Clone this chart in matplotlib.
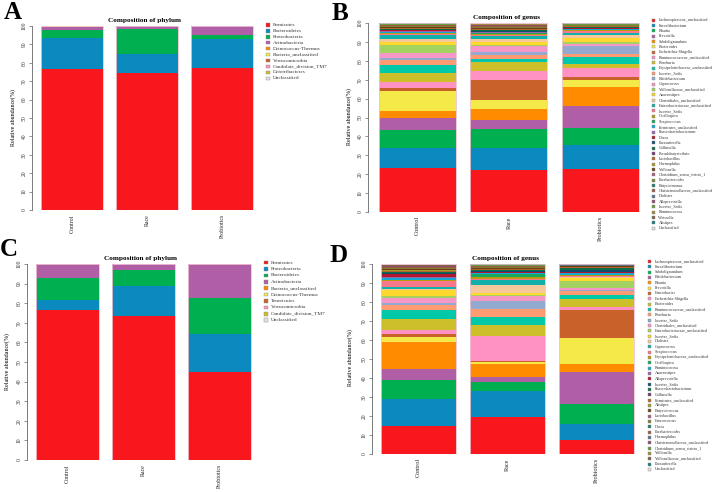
import matplotlib
matplotlib.use("Agg")
import matplotlib.pyplot as plt
from matplotlib.patches import Rectangle
import numpy as np

plt.rcParams['font.family'] = ['Liberation Serif', 'DejaVu Serif']

W, H = 719, 492
samples = ["Control", "Race", "Probiotics"]

# ---------------- Panel A: phylum ----------------
phylum_a = ["Firmicutes", "Bacteroidetes", "Proteobacteria", "Actinobacteria",
            "Deinococcus-Thermus", "Bacteria_unclassified", "Verrucomicrobia",
            "Candidate_division_TM7", "Deferribacteres", "Unclassified"]
a_control    = [76.5, 17.2, 3.9, 2.0, 0.1, 0.1, 0.05, 0.05, 0.05, 0.05]
a_race       = [74.5, 10.5, 13.2, 1.6, 0.05, 0.05, 0.03, 0.03, 0.02, 0.02]
a_probiotics = [77.4, 15.4, 2.5, 4.5, 0.05, 0.05, 0.03, 0.03, 0.02, 0.02]

# ---------------- Panel C: phylum ----------------
phylum_c = ["Firmicutes", "Proteobacteria", "Bacteroidetes", "Actinobacteria",
            "Bacteria_unclassified", "Deinococcus-Thermus", "Tenericutes",
            "Verrucomicrobia", "Candidate_division_TM7", "Unclassified"]
c_control    = [76.7, 4.9, 11.1, 7.2, 0.02, 0.02, 0.02, 0.02, 0.01, 0.01]
c_race       = [73.6, 15.2, 8.1, 3.0, 0.02, 0.02, 0.02, 0.02, 0.01, 0.01]
c_probiotics = [44.9, 19.2, 18.6, 17.2, 0.02, 0.02, 0.02, 0.02, 0.01, 0.01]

# ---------------- Panel B: genus ----------------
genus_b = ["Lachnospiraceae_unclassified", "Faecalibacterium", "Blautia", "Prevotella",
           "Subdoligranulum", "Bacteroides", "Escherichia-Shigella",
           "Ruminococcaceae_unclassified", "Roseburia", "Erysipelotrichaceae_unclassified",
           "Incertae_Sedis", "Bifidobacterium", "Coprococcus", "Veillonellaceae_unclassified",
           "Anaerostipes", "Clostridiales_unclassified", "Enterobacteriaceae_unclassified",
           "Incertae_Sedis", "Oscillospira", "Streptococcus", "Firmicutes_unclassified",
           "Phascolarctobacterium", "Dorea", "Parasutterella", "Collinsella",
           "Pseudobutyrivibrio", "Lactobacillus", "Haemophilus", "Veillonella",
           "Clostridium_sensu_stricto_1", "Parabacteroides", "Butyricimonas",
           "Christensenellaceae_unclassified", "Dialister", "Alloprevotella",
           "Incertae_Sedis", "Ruminococcus", "Weissella", "Alistipes", "Unclassified"]
b_control = [23.5, 10.2, 9.7, 6.2, 3.8, 10.4, 1.8, 3.2, 4.7, 4.1, 3.0, 1.1, 2.3, 4.2,
             1.9, 1.6, 2.0, 0.5, 0.3, 0.4, 0.6, 0.3, 0.3, 0.4, 0.3, 0.2, 0.3, 0.2,
             0.2, 0.3, 0.2, 0.2, 0.3, 0.2, 0.2, 0.2, 0.2, 0.2, 0.1, 0.2]
b_race = [22.2, 11.8, 9.7, 5.0, 5.8, 4.8, 10.5, 4.8, 4.6, 1.8, 2.1, 1.6, 3.0, 0.8,
          1.6, 1.3, 1.5, 0.6, 0.5, 0.5, 0.4, 0.3, 0.3, 0.3, 0.3, 0.3, 0.3, 0.3,
          0.2, 0.3, 0.3, 0.2, 0.3, 0.2, 0.2, 0.3, 0.3, 0.2, 0.2, 0.3]
b_probiotics = [22.6, 12.7, 9.1, 11.5, 10.2, 3.6, 1.7, 4.8, 1.9, 3.9, 1.6, 4.1, 1.2, 0.9,
                2.3, 1.7, 0.9, 1.1, 0.3, 0.3, 0.4, 0.2, 0.2, 0.4, 0.3, 0.1, 0.2, 0.1,
                0.1, 0.2, 0.1, 0.1, 0.2, 0.1, 0.1, 0.1, 0.2, 0.2, 0.1, 0.2]

# ---------------- Panel D: genus ----------------
genus_d = ["Lachnospiraceae_unclassified", "Faecalibacterium", "Subdoligranulum",
           "Bifidobacterium", "Blautia", "Prevotella", "Enterobacter",
           "Escherichia-Shigella", "Bacteroides", "Ruminococcaceae_unclassified",
           "Roseburia", "Incertae_Sedis", "Clostridiales_unclassified",
           "Enterobacteriaceae_unclassified", "Incertae_Sedis", "Dialister",
           "Coprococcus", "Streptococcus", "Erysipelotrichaceae_unclassified",
           "Oscillospira", "Ruminococcus", "Anaerostipes", "Alloprevotella",
           "Incertae_Sedis", "Phascolarctobacterium", "Collinsella",
           "Firmicutes_unclassified", "Alistipes", "Butyricicoccus", "Lactobacillus",
           "Enterococcus", "Dorea", "Parabacteroides", "Haemophilus",
           "Christensenellaceae_unclassified", "Clostridium_sensu_stricto_1",
           "Veillonella", "Veillonellaceae_unclassified", "Parasutterella", "Unclassified"]
d_control = [14.8, 14.4, 9.5, 6.3, 13.7, 2.8, 1.4, 2.3, 5.6, 5.1, 2.7, 1.0, 2.5, 1.0,
             3.4, 0.3, 1.0, 3.3, 0.3, 0.4, 1.0, 0.3, 1.6, 0.5, 0.4, 0.4, 0.5, 0.4,
             0.3, 0.3, 0.3, 0.3, 0.3, 0.2, 0.2, 0.2, 0.2, 0.2, 0.2, 0.4]
d_race = [19.5, 13.4, 5.2, 2.5, 6.9, 0.8, 0.9, 12.7, 6.1, 3.9, 4.4, 4.0, 3.0, 0.5,
          0.9, 4.4, 2.6, 0.4, 1.2, 1.2, 0.5, 0.5, 0.4, 0.4, 0.3, 0.3, 0.3, 0.4,
          0.3, 0.2, 0.2, 0.2, 0.2, 0.2, 0.2, 0.2, 0.2, 0.2, 0.1, 0.2]
d_probiotics = [7.4, 8.4, 10.7, 16.9, 3.9, 13.7, 14.6, 1.6, 4.3, 2.0, 2.2, 0.6, 1.0, 4.0,
                1.2, 0.4, 0.3, 0.3, 0.5, 0.4, 0.8, 0.2, 0.2, 1.4, 0.9, 0.2, 0.2, 0.2,
                0.3, 0.1, 0.1, 0.1, 0.1, 0.1, 0.1, 0.1, 0.1, 0.1, 0.1, 0.2]

palette = ["#F8171C", "#0A8ABF", "#00B050", "#B05FA7", "#FF8C00", "#F5E94A",
           "#C9622A", "#FF92C2", "#CDBF2A", "#00C8A8", "#FF9B72", "#92AACF",
           "#F797C8", "#A3D260", "#FFD82E", "#F6C99C", "#12B0AA", "#F7788A",
           "#BC9A10", "#17A85A", "#13A9D7", "#9B63AE", "#B2182B", "#134C6F",
           "#0F6C47", "#6D3573", "#B5652E", "#A29A2A", "#6E3F12", "#A75C80",
           "#7F7F35", "#1C7C73", "#9B5B43", "#5C6F86", "#8E4D6C", "#6A9B40",
           "#A08A3A", "#7B6445", "#167C7C", "#E2E2E2"]
phylum_colors = palette[:9] + ["#E2E2E2"]

fig = plt.figure(figsize=(W / 100, H / 100), dpi=100)


def px_axes(x0, x1, ytop, ybot):
    return fig.add_axes([x0 / W, 1 - ybot / H, (x1 - x0) / W, (ybot - ytop) / H])


def draw_panel(ax, cats, series, colors, xlim, width, title, tick_fs, xl_fs):
    x = np.arange(len(samples))
    data = np.array(series)  # samples x categories
    bottom = np.zeros(len(samples))
    for j in range(len(cats)):
        ax.bar(x, data[:, j], bottom=bottom, width=width, color=colors[j],
               linewidth=0)
        bottom = bottom + data[:, j]
    ax.bar(x, bottom, width=width, fill=False, edgecolor="#EFC3D0", linewidth=0.6)
    ax.set_xlim(*xlim)
    ax.set_ylim(0, 100)
    for s in ["top", "right", "bottom"]:
        ax.spines[s].set_visible(False)
    ax.spines["left"].set_color("#666666")
    ax.spines["left"].set_linewidth(0.6)
    ax.set_yticks(np.arange(0, 101, 10))
    ax.set_yticklabels([str(v) for v in range(0, 101, 10)], rotation=90,
                       va="center", fontsize=tick_fs, color="#333333")
    ax.tick_params(axis="y", length=2.5, width=0.5, color="#666666", pad=1.5)
    ax.set_xticks(x)
    ax.set_xticklabels(samples, rotation=90, fontsize=xl_fs, color="#222222")
    ax.tick_params(axis="x", length=0, pad=3)
    ax.set_title(title, fontsize=5.2, fontweight="bold", pad=3)


def draw_legend(cats, colors, xs, y0, dy, fs, sq):
    for i, (c, col) in enumerate(zip(cats, colors)):
        y = y0 + i * dy
        fig.add_artist(Rectangle((xs / W, 1 - (y + sq / 2) / H), sq / W, sq / H,
                                 transform=fig.transFigure, facecolor=col,
                                 edgecolor="#888888", linewidth=0.3))
        fig.text((xs + sq + 3.5) / W, 1 - y / H, c, fontsize=fs, va="center",
                 ha="left", color="#333333")


# A
axA = px_axes(32, 256, 26, 210)
draw_panel(axA, phylum_a, [a_control, a_race, a_probiotics], phylum_colors,
           (-0.53, 2.45), 0.83, "Composition of phylum", 4, 4.2)
draw_legend(phylum_a, phylum_colors, 266, 24.8, 5.95, 3.8, 3.6)
fig.text(13 / W, 1 - 118 / H, "Relative abundance(%)", rotation=90, fontsize=4.3,
         ha="center", va="center")

# B
axB = px_axes(368, 645, 23, 212)
draw_panel(axB, genus_b, [b_control, b_race, b_probiotics], palette,
           (-0.54, 2.49), 0.84, "Composition of genus", 4, 4.4)
draw_legend(genus_b, palette, 652, 20.3, 5.33, 3.0, 3.0)
fig.text(349 / W, 1 - 117 / H, "Relative abundance(%)", rotation=90, fontsize=4.3,
         ha="center", va="center")

# C
axC = px_axes(27, 255, 264, 460)
draw_panel(axC, phylum_c, [c_control, c_race, c_probiotics], phylum_colors,
           (-0.53, 2.47), 0.83, "Composition of phylum", 4, 4.2)
draw_legend(phylum_c, phylum_colors, 264, 262.5, 6.4, 3.8, 3.6)
fig.text(7 / W, 1 - 362 / H, "Relative abundance(%)", rotation=90, fontsize=4.3,
         ha="center", va="center")

# D
axD = px_axes(372, 640, 264, 454)
draw_panel(axD, genus_d, [d_control, d_race, d_probiotics], palette,
           (-0.52, 2.49), 0.84, "Composition of genus", 4, 4.4)
draw_legend(genus_d, palette, 648, 261.5, 5.33, 3.0, 3.0)
fig.text(350 / W, 1 - 358 / H, "Relative abundance(%)", rotation=90, fontsize=4.3,
         ha="center", va="center")

# Panel letters (baseline placement)
for lab, xx, yy in [("A", 4, 19), ("B", 332, 20), ("C", 0, 256), ("D", 329, 262)]:
    fig.text(xx / W, 1 - yy / H, lab, fontsize=18, fontweight="bold", ha="left",
             va="baseline")

fig.savefig("out.png", dpi=100)
